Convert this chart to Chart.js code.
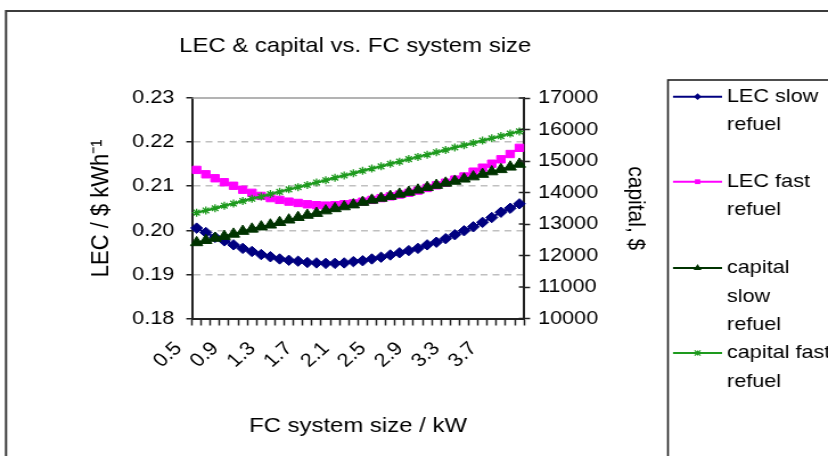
<!DOCTYPE html>
<html>
<head>
<meta charset="utf-8">
<script src="https://cdn.jsdelivr.net/npm/chart.js@4/dist/chart.umd.min.js"></script>
<style>
  html, body { margin: 0; padding: 0; background: #fff; overflow: hidden; }
  #wrap { width: 828px; height: 456px; overflow: hidden; }
  /* the chart is laid out on a narrower canvas and widened to the page */
  canvas { display: block; transform: scaleX(1.1389); transform-origin: 0 0; }
</style>
</head>
<body>
<div id="wrap"><canvas id="c" width="727" height="456"></canvas></div>
<script>
// FC system size, kW
const sizes = ['0.5','0.6','0.7','0.8','0.9','1.0','1.1','1.2','1.3','1.4','1.5','1.6',
               '1.7','1.8','1.9','2.0','2.1','2.2','2.3','2.4','2.5','2.6','2.7','2.8',
               '2.9','3.0','3.1','3.2','3.3','3.4','3.5','3.6','3.7','3.8','3.9','4.0'];

// levelised energy cost, $ per kWh
const lecSlow = [0.2005,0.1995,0.1984,0.1976,0.1967,0.1959,0.1952,0.1945,0.1940,0.1935,0.1932,0.1930,
                 0.1927,0.1926,0.1925,0.1925,0.1926,0.1929,0.1931,0.1935,0.1939,0.1944,0.1949,0.1954,
                 0.1959,0.1967,0.1973,0.1981,0.1990,0.1999,0.2008,0.2018,0.2029,0.2041,0.2050,0.2060];
const lecFast = [0.2137,0.2127,0.2118,0.2109,0.2101,0.2092,0.2085,0.2078,0.2073,0.2069,0.2065,0.2062,
                 0.2059,0.2057,0.2056,0.2057,0.2059,0.2061,0.2065,0.2069,0.2073,0.2077,0.2081,0.2085,
                 0.2090,0.2096,0.2102,0.2108,0.2115,0.2122,0.2133,0.2142,0.2151,0.2161,0.2173,0.2187];

// capital cost, $
const capitalSlow = [12410,12480,12550,12610,12680,12770,12840,12910,12970,13050,13130,13210,
                     13280,13340,13420,13490,13550,13610,13690,13760,13820,13880,13950,14010,
                     14080,14160,14230,14300,14360,14430,14500,14580,14660,14730,14810,14900];
const capitalFast = [13360,13430,13500,13580,13650,13730,13800,13870,13950,14020,14100,14170,
                     14240,14320,14390,14470,14540,14610,14690,14760,14830,14910,14980,15060,
                     15130,15200,15280,15350,15430,15500,15570,15650,15720,15790,15870,15940];

const chartTitle = 'LEC & capital vs. FC system size';
const legendLines = [['LEC slow', 'refuel'], ['LEC fast', 'refuel'],
                     ['capital', 'slow', 'refuel'], ['capital fast', 'refuel']];

const FONT = "'Liberation Sans', Arial, Helvetica, sans-serif";
const INK = '#222';

function drawMarker(ctx, style, x, y, r, color) {
  ctx.save();
  ctx.fillStyle = color;
  ctx.strokeStyle = color;
  ctx.lineWidth = 1.2;
  ctx.beginPath();
  if (style === 'rectRot') {
    ctx.moveTo(x, y - r); ctx.lineTo(x + r, y); ctx.lineTo(x, y + r); ctx.lineTo(x - r, y);
    ctx.closePath(); ctx.fill();
  } else if (style === 'rect') {
    const s = r / Math.SQRT2;
    ctx.fillRect(x - s, y - s, 2 * s, 2 * s);
  } else if (style === 'triangle') {
    ctx.moveTo(x, y - r); ctx.lineTo(x + r * 0.87, y + r * 0.5); ctx.lineTo(x - r * 0.87, y + r * 0.5);
    ctx.closePath(); ctx.fill();
  } else {
    ctx.moveTo(x - r, y - r); ctx.lineTo(x + r, y + r);
    ctx.moveTo(x - r, y + r); ctx.lineTo(x + r, y - r);
    ctx.moveTo(x, y - r); ctx.lineTo(x, y + r);
    ctx.stroke();
  }
  ctx.restore();
}

const framePlugin = {
  id: 'frame',
  beforeDraw(chart) {
    const ctx = chart.ctx;
    ctx.save();
    ctx.fillStyle = '#fff';
    ctx.fillRect(0, 0, chart.width, chart.height);
    ctx.strokeStyle = '#3c3c3c';
    ctx.lineWidth = 2;
    ctx.strokeRect(5.3, 11, chart.width + 40, chart.height + 40);
    ctx.restore();
  },
  afterDraw(chart) {
    const ctx = chart.ctx;
    const a = chart.chartArea;
    ctx.save();
    // chart title, centred over the plot area
    ctx.fillStyle = '#000';
    ctx.font = '21px ' + FONT;
    ctx.textAlign = 'center';
    ctx.textBaseline = 'middle';
    ctx.fillText(chartTitle, (a.left + a.right) / 2 - 2.5, 46);

    // plot-area top edge
    ctx.strokeStyle = '#9a9a9a';
    ctx.lineWidth = 1.5;
    ctx.beginPath();
    ctx.moveTo(a.left, a.top);
    ctx.lineTo(a.right, a.top);
    ctx.stroke();
    // inner half of the crossing tick marks on the right axis
    const y1 = chart.scales.y1;
    ctx.strokeStyle = INK;
    ctx.beginPath();
    y1.ticks.forEach(t => {
      const py = y1.getPixelForValue(t.value);
      ctx.moveTo(a.right - 4.5, py);
      ctx.lineTo(a.right, py);
    });
    ctx.stroke();

    // legend box
    ctx.strokeStyle = INK;
    ctx.lineWidth = 1.6;
    ctx.strokeRect(586.5, 80, 300, 500);
    const rows = [96.7, 181.7, 268, 353];
    ctx.font = '19px ' + FONT;
    ctx.textBaseline = 'middle';
    ctx.textAlign = 'left';
    chart.data.datasets.forEach((ds, i) => {
      const y = rows[i];
      ctx.strokeStyle = ds.borderColor;
      ctx.lineWidth = 2;
      ctx.beginPath();
      ctx.moveTo(590.9, y);
      ctx.lineTo(634, y);
      ctx.stroke();
      drawMarker(ctx, ds.pointStyle, 612.5, y, ds.pointRadius * 0.65, ds.borderColor);
      ctx.fillStyle = '#000';
      legendLines[i].forEach((txt, k) => ctx.fillText(txt, 638.3, y + k * 28.4));
    });
    ctx.restore();
  }
};

const isEdge = v => Math.abs(v - 0.18) < 1e-6 || Math.abs(v - 0.23) < 1e-6;

new Chart(document.getElementById('c'), {
  type: 'line',
  data: {
    labels: sizes,
    datasets: [
      { label: 'LEC slow refuel', data: lecSlow, yAxisID: 'y', order: 4,
        borderColor: '#000080', backgroundColor: '#000080', borderWidth: 2,
        pointStyle: 'rectRot', pointRadius: 5.2, pointBorderWidth: 1 },
      { label: 'LEC fast refuel', data: lecFast, yAxisID: 'y', order: 3,
        borderColor: '#ff00ff', backgroundColor: '#ff00ff', borderWidth: 2,
        pointStyle: 'rect', pointRadius: 5.2, pointBorderWidth: 1 },
      { label: 'capital slow refuel', data: capitalSlow, yAxisID: 'y1', order: 2,
        borderColor: '#003300', backgroundColor: '#003300', borderWidth: 2,
        pointStyle: 'triangle', pointRadius: 6.2, pointBorderWidth: 1 },
      { label: 'capital fast refuel', data: capitalFast, yAxisID: 'y1', order: 1,
        borderColor: '#1e9a1e', backgroundColor: '#1e9a1e', borderWidth: 2,
        pointStyle: 'star', pointRadius: 4, pointBorderWidth: 1.3 }
    ]
  },
  options: {
    responsive: false,
    animation: false,
    devicePixelRatio: 1,
    layout: { padding: { left: 0, right: 157, top: 98, bottom: 0 } },
    elements: { line: { tension: 0 } },
    plugins: {
      legend: { display: false },
      tooltip: { enabled: false },
      title: { display: false }
    },
    scales: {
      x: {
        type: 'category',
        offset: true,
        grid: { offset: true, drawOnChartArea: false, drawTicks: true, tickLength: 7,
                tickColor: INK, tickWidth: 1.5 },
        border: { color: INK, width: 2 },
        ticks: {
          autoSkip: false, minRotation: 45, maxRotation: 45,
          padding: 12, labelOffset: -16, color: '#000',
          font: { family: FONT, size: 19 },
          callback: (v, i) => (i % 4 === 0 ? sizes[i] : '')
        },
        title: { display: true, text: 'FC system size / kW', color: '#000',
                 font: { family: FONT, size: 21 }, padding: { top: 0, bottom: 17.4 } },
        afterFit(s) { s.height = 137.5; }
      },
      y: {
        position: 'left',
        min: 0.18, max: 0.23,
        ticks: { stepSize: 0.01, padding: 10.5, color: '#000',
                 font: { family: FONT, size: 19 },
                 callback: v => v.toFixed(2) },
        grid: {
          color: c => (c.tick && isEdge(c.tick.value)) ? 'rgba(0,0,0,0)' : '#c0c0c0',
          lineWidth: 1.5, drawTicks: true, tickLength: 5, tickColor: INK, tickWidth: 1.5
        },
        border: { color: INK, width: 2, dash: [6, 4.5] },
        title: { display: true, text: 'LEC / $ kWh\u207B\u00B9', color: '#000',
                 font: { family: FONT, size: 22 }, padding: { top: 76, bottom: 0 } },
        afterFit(s) { s.width = 168.6; }
      },
      y1: {
        position: 'right',
        min: 10000, max: 17000,
        ticks: { stepSize: 1000, padding: 7, color: '#000',
                 font: { family: FONT, size: 19 },
                 callback: v => String(v) },
        grid: { drawOnChartArea: false, drawTicks: true, tickLength: 5.3,
                tickColor: INK, tickWidth: 1.5 },
        border: { color: INK, width: 2 },
        title: { display: true, text: 'capital, $', color: '#000',
                 font: { family: FONT, size: 21 }, padding: { top: 0, bottom: 0 } },
        afterFit(s) { s.width = 109.9; }
      }
    }
  },
  plugins: [framePlugin]
});
</script>
</body>
</html>
